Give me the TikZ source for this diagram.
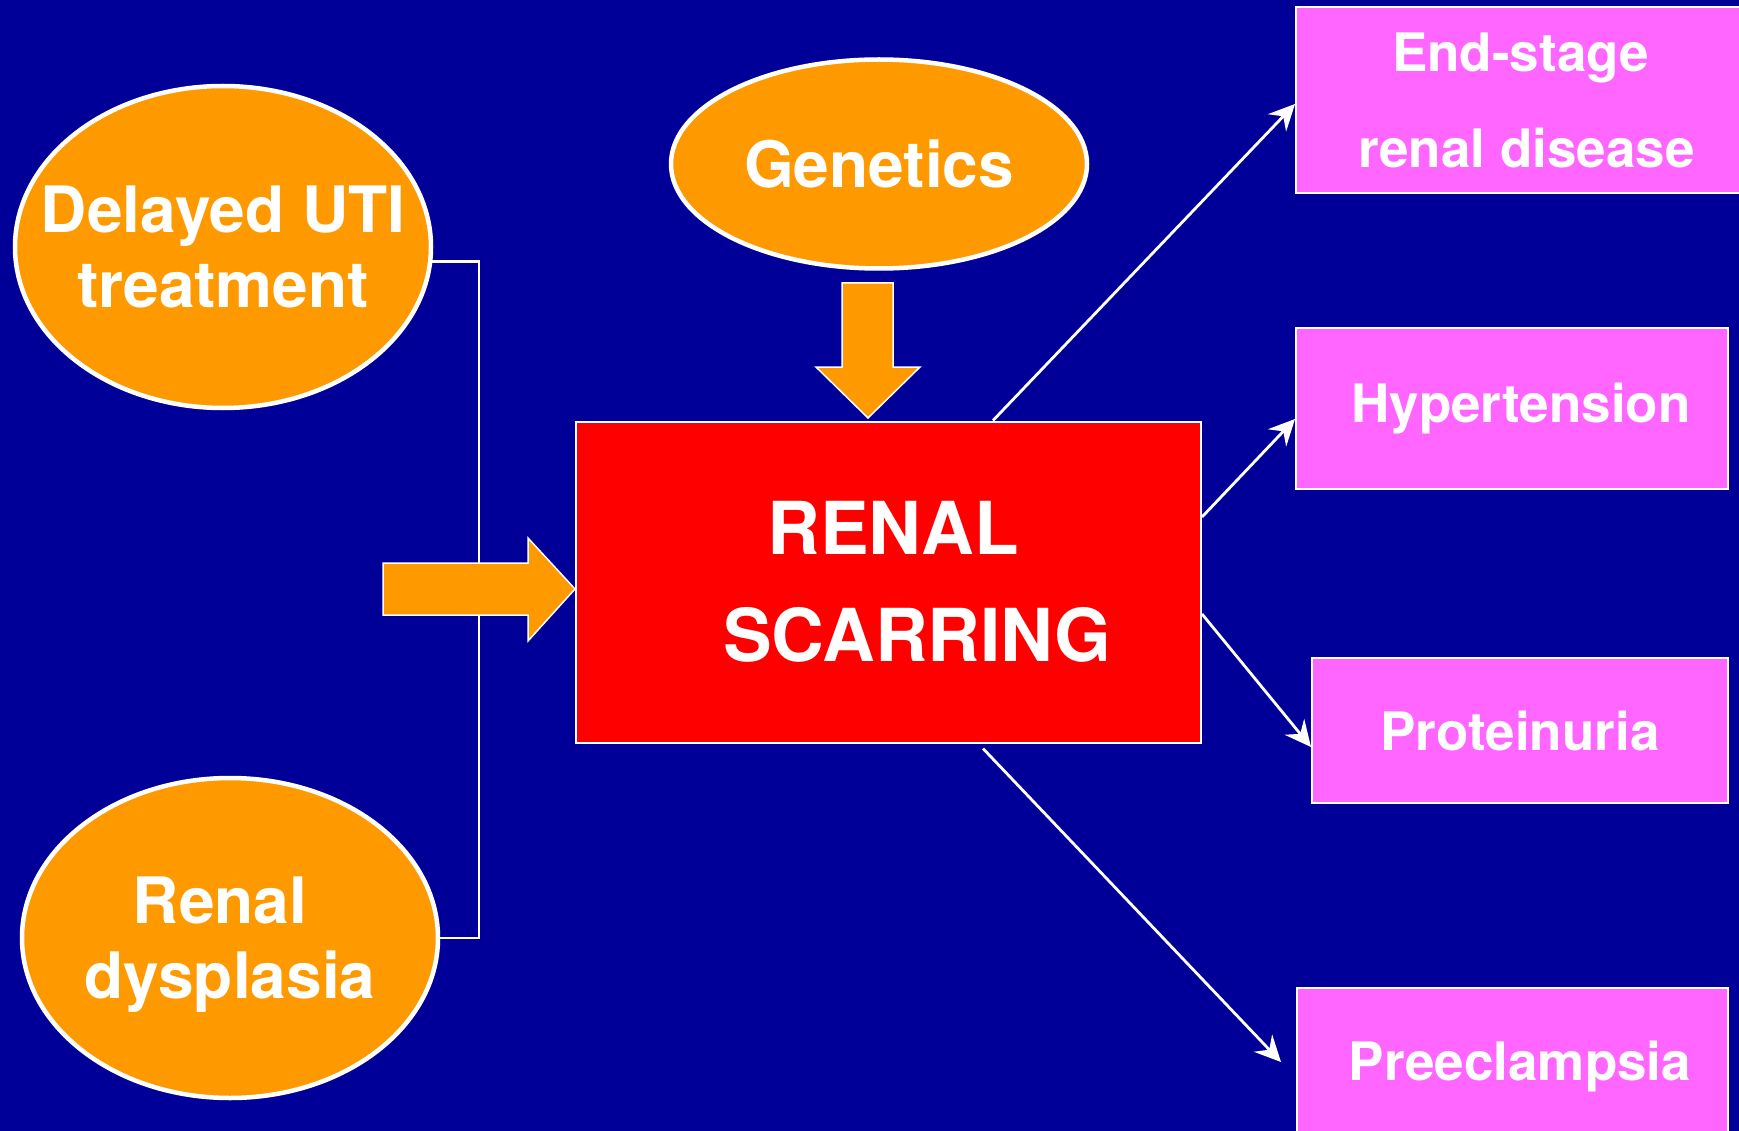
\documentclass[tikz,border=0pt]{standalone}
\usepackage{fontspec}
\setmainfont{TeX Gyre Heros}
\usetikzlibrary{arrows.meta,shapes.geometric,calc}
\definecolor{bluebg}{RGB}{0,0,153}
\definecolor{orangei}{RGB}{255,153,0}
\definecolor{redi}{RGB}{255,0,0}
\definecolor{pinki}{RGB}{255,102,255}
\tikzset{
          cause/.style={
            ellipse,draw=white,line width=4.5pt,fill=orangei,text=white,
            font=\fontsize{64}{75}\selectfont\bfseries,align=center,
            inner xsep=-40pt,inner ysep=0pt,text depth=0pt
          },
          result/.style={
            rectangle,draw=white,line width=2pt,fill=pinki,text=white,
            font=\fontsize{53}{96}\selectfont\bfseries,align=center,
            inner sep=0pt
          },
          scarbox/.style={
            rectangle,draw=white,line width=2pt,fill=redi,text=white,
            font=\fontsize{73}{107}\selectfont\bfseries,align=center,
            inner sep=0pt,minimum width=625pt,minimum height=321pt
          },
          link/.style={draw=white,line width=2.8pt},
          fat/.style={fill=orangei,draw=white,line width=1.5pt,line join=miter}
        }

\begin{document}
\begin{tikzpicture}[x=1pt,y=-1pt,>={Stealth[length=26pt,width=25pt,inset=9pt]}]

  \fill[bluebg] (0,0) rectangle (1739,1131);
  \useasboundingbox (0,0) rectangle (1739,1131);
  \clip (0,0) rectangle (1739,1131);

  % causes
  \node[cause,minimum width=416pt,minimum height=322pt] (delayed) at (223,247)
    {Delayed UTI\\treatment};
  \node[cause,minimum width=416pt,minimum height=320pt] (dysplasia) at (230,938)
    {\hspace*{-20pt}Renal\\dysplasia};
  \node[cause,minimum width=416pt,minimum height=209pt] (genetics) at (879,164)
    {Genetics};

  \coordinate (fork) at (479,600);
  \draw[link] (delayed.-4) -- (delayed.-4 -| fork) -- (fork |- dysplasia.east)
    -- (dysplasia.east);

  \node[scarbox] (scar) at (888.5,582)
    {\hspace*{9pt}RENAL\\\hspace*{57pt}SCARRING};

  % outcomes
  \node[result,minimum width=449pt,minimum height=186pt] (esrd) at (1520.5,100)
    {End-stage\\\hspace*{12pt}renal disease};
  \node[result,minimum width=432pt,minimum height=161pt] (hyper) at (1512,408.5)
    {\hspace*{18pt}Hypertension};
  \node[result,minimum width=416pt,minimum height=145pt] (prot) at (1520,730.5)
    {Proteinuria};
  \node[result,minimum width=431pt,minimum height=158pt] (pre) at (1512.5,1067)
    {\hspace*{15pt}Preeclampsia};

  % block arrows
  \draw[fat] (383,563) -- (528,563) -- (528,538) -- (575,589) -- (528,641)
    -- (528,615) -- (383,615) -- cycle;
  \draw[fat] (842,283) -- (893,283) -- (893,367) -- (920,367) -- (868,418)
    -- (816,367) -- (842,367) -- cycle;

  \draw[link,->] ([xshift=104.5pt]scar.north) -- ([yshift=-4pt]esrd.west);
  \draw[link,->] ([yshift=65pt]scar.east) -- ([yshift=-10.5pt]hyper.west);
  \draw[link,->] ([yshift=-32pt]scar.east) -- ([yshift=-16.5pt]prot.west);
  \draw[link,->] ([xshift=94.5pt,yshift=-5pt]scar.south)
    -- ([xshift=-15pt,yshift=5pt]pre.west);

\end{tikzpicture}
\end{document}
